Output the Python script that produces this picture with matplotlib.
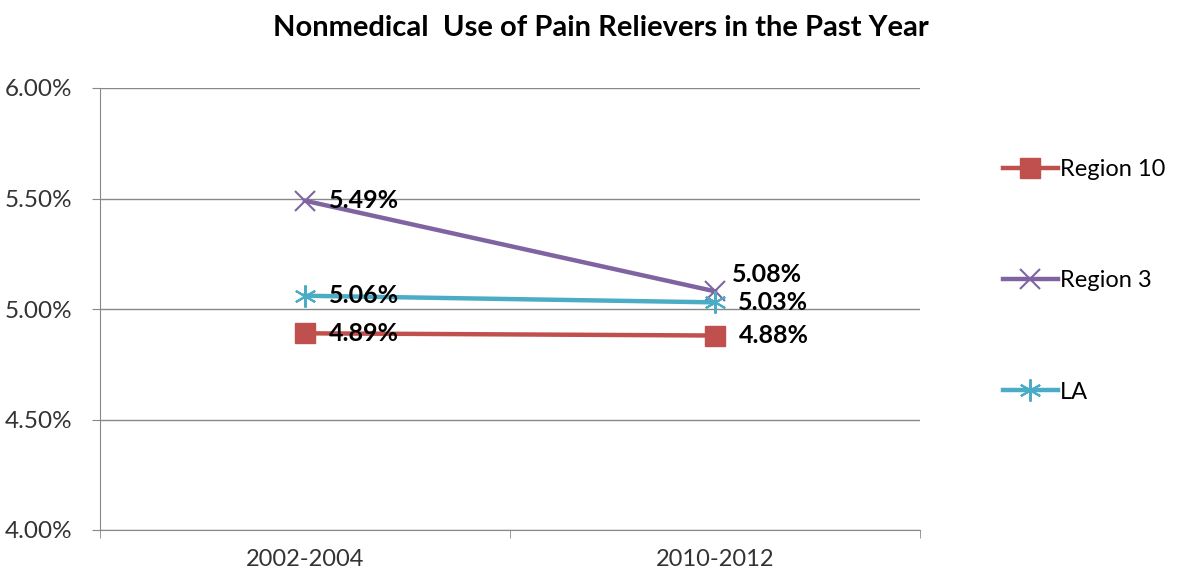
import numpy as np
import matplotlib
matplotlib.use('Agg')
import matplotlib.pyplot as plt

periods = ['2002-2004', '2010-2012']
region10 = [4.89, 4.88]
region3 = [5.49, 5.08]
la = [5.06, 5.03]

plt.rcParams['font.family'] = ['Lato', 'DejaVu Sans']

fig = plt.figure(figsize=(11.81, 5.78), dpi=100)
ax = fig.add_axes([100/1181, 1-530/578, 820/1181, 442/578])

x = np.arange(len(periods))
grey = '#888888'
l1, = ax.plot(x, region10, color='#C0504D', lw=3.2, marker='s', ms=14, label='Region 10')
l2, = ax.plot(x, region3, color='#8064A2', lw=3.2, marker='x', ms=14, mew=1.5, label='Region 3')
l3, = ax.plot(x, la, color='#4BACC6', lw=3.2, marker=(6, 2, 0), ms=16, mew=1.5, label='LA')

# data labels
offs = {
    'r10': [(24, 0), (24, 0)],
    'r3': [(24, 0), (17, 17)],
    'la': [(24, 0), (23, 0)],
}
for key, vals in (('r10', region10), ('r3', region3), ('la', la)):
    for i, v in enumerate(vals):
        ax.annotate('%.2f%%' % v, (x[i], v), xytext=offs[key][i], textcoords='offset pixels',
                    ha='left', va='center', fontsize=18, fontweight='bold', color='black')

ax.set_xlim(-0.5, 1.5)
ax.set_ylim(4.0, 6.0)
ax.set_yticks([4.0, 4.5, 5.0, 5.5, 6.0])
ax.set_yticklabels(['%.2f%%' % t for t in [4.0, 4.5, 5.0, 5.5, 6.0]], fontsize=17.5, color='#333333')
ax.set_xticks(x)
ax.set_xticklabels(periods, fontsize=17, color='#333333')
ax.set_xticks([-0.5, 0.5, 1.5], minor=True)
ax.tick_params(axis='x', which='major', length=0, pad=14)
ax.tick_params(axis='x', which='minor', length=6, color=grey, direction='out')
ax.tick_params(axis='y', length=6, color=grey, pad=14)
ax.yaxis.grid(True, color=grey, lw=1)
ax.set_axisbelow(True)
for s in ['top', 'right']:
    ax.spines[s].set_visible(False)
for s in ['left', 'bottom']:
    ax.spines[s].set_color(grey)

fig.text(601/1181, 1-28/578, 'Nonmedical  Use of Pain Relievers in the Past Year', ha='center', va='center',
         fontsize=21, fontweight='bold')

fig.legend(handles=[l1, l2, l3], loc='upper left', bbox_to_anchor=(982/1181, 1-138/578),
           frameon=False, fontsize=17, handlelength=2.3, handletextpad=0.1, labelspacing=3.82)

fig.savefig('out.png', dpi=100)
